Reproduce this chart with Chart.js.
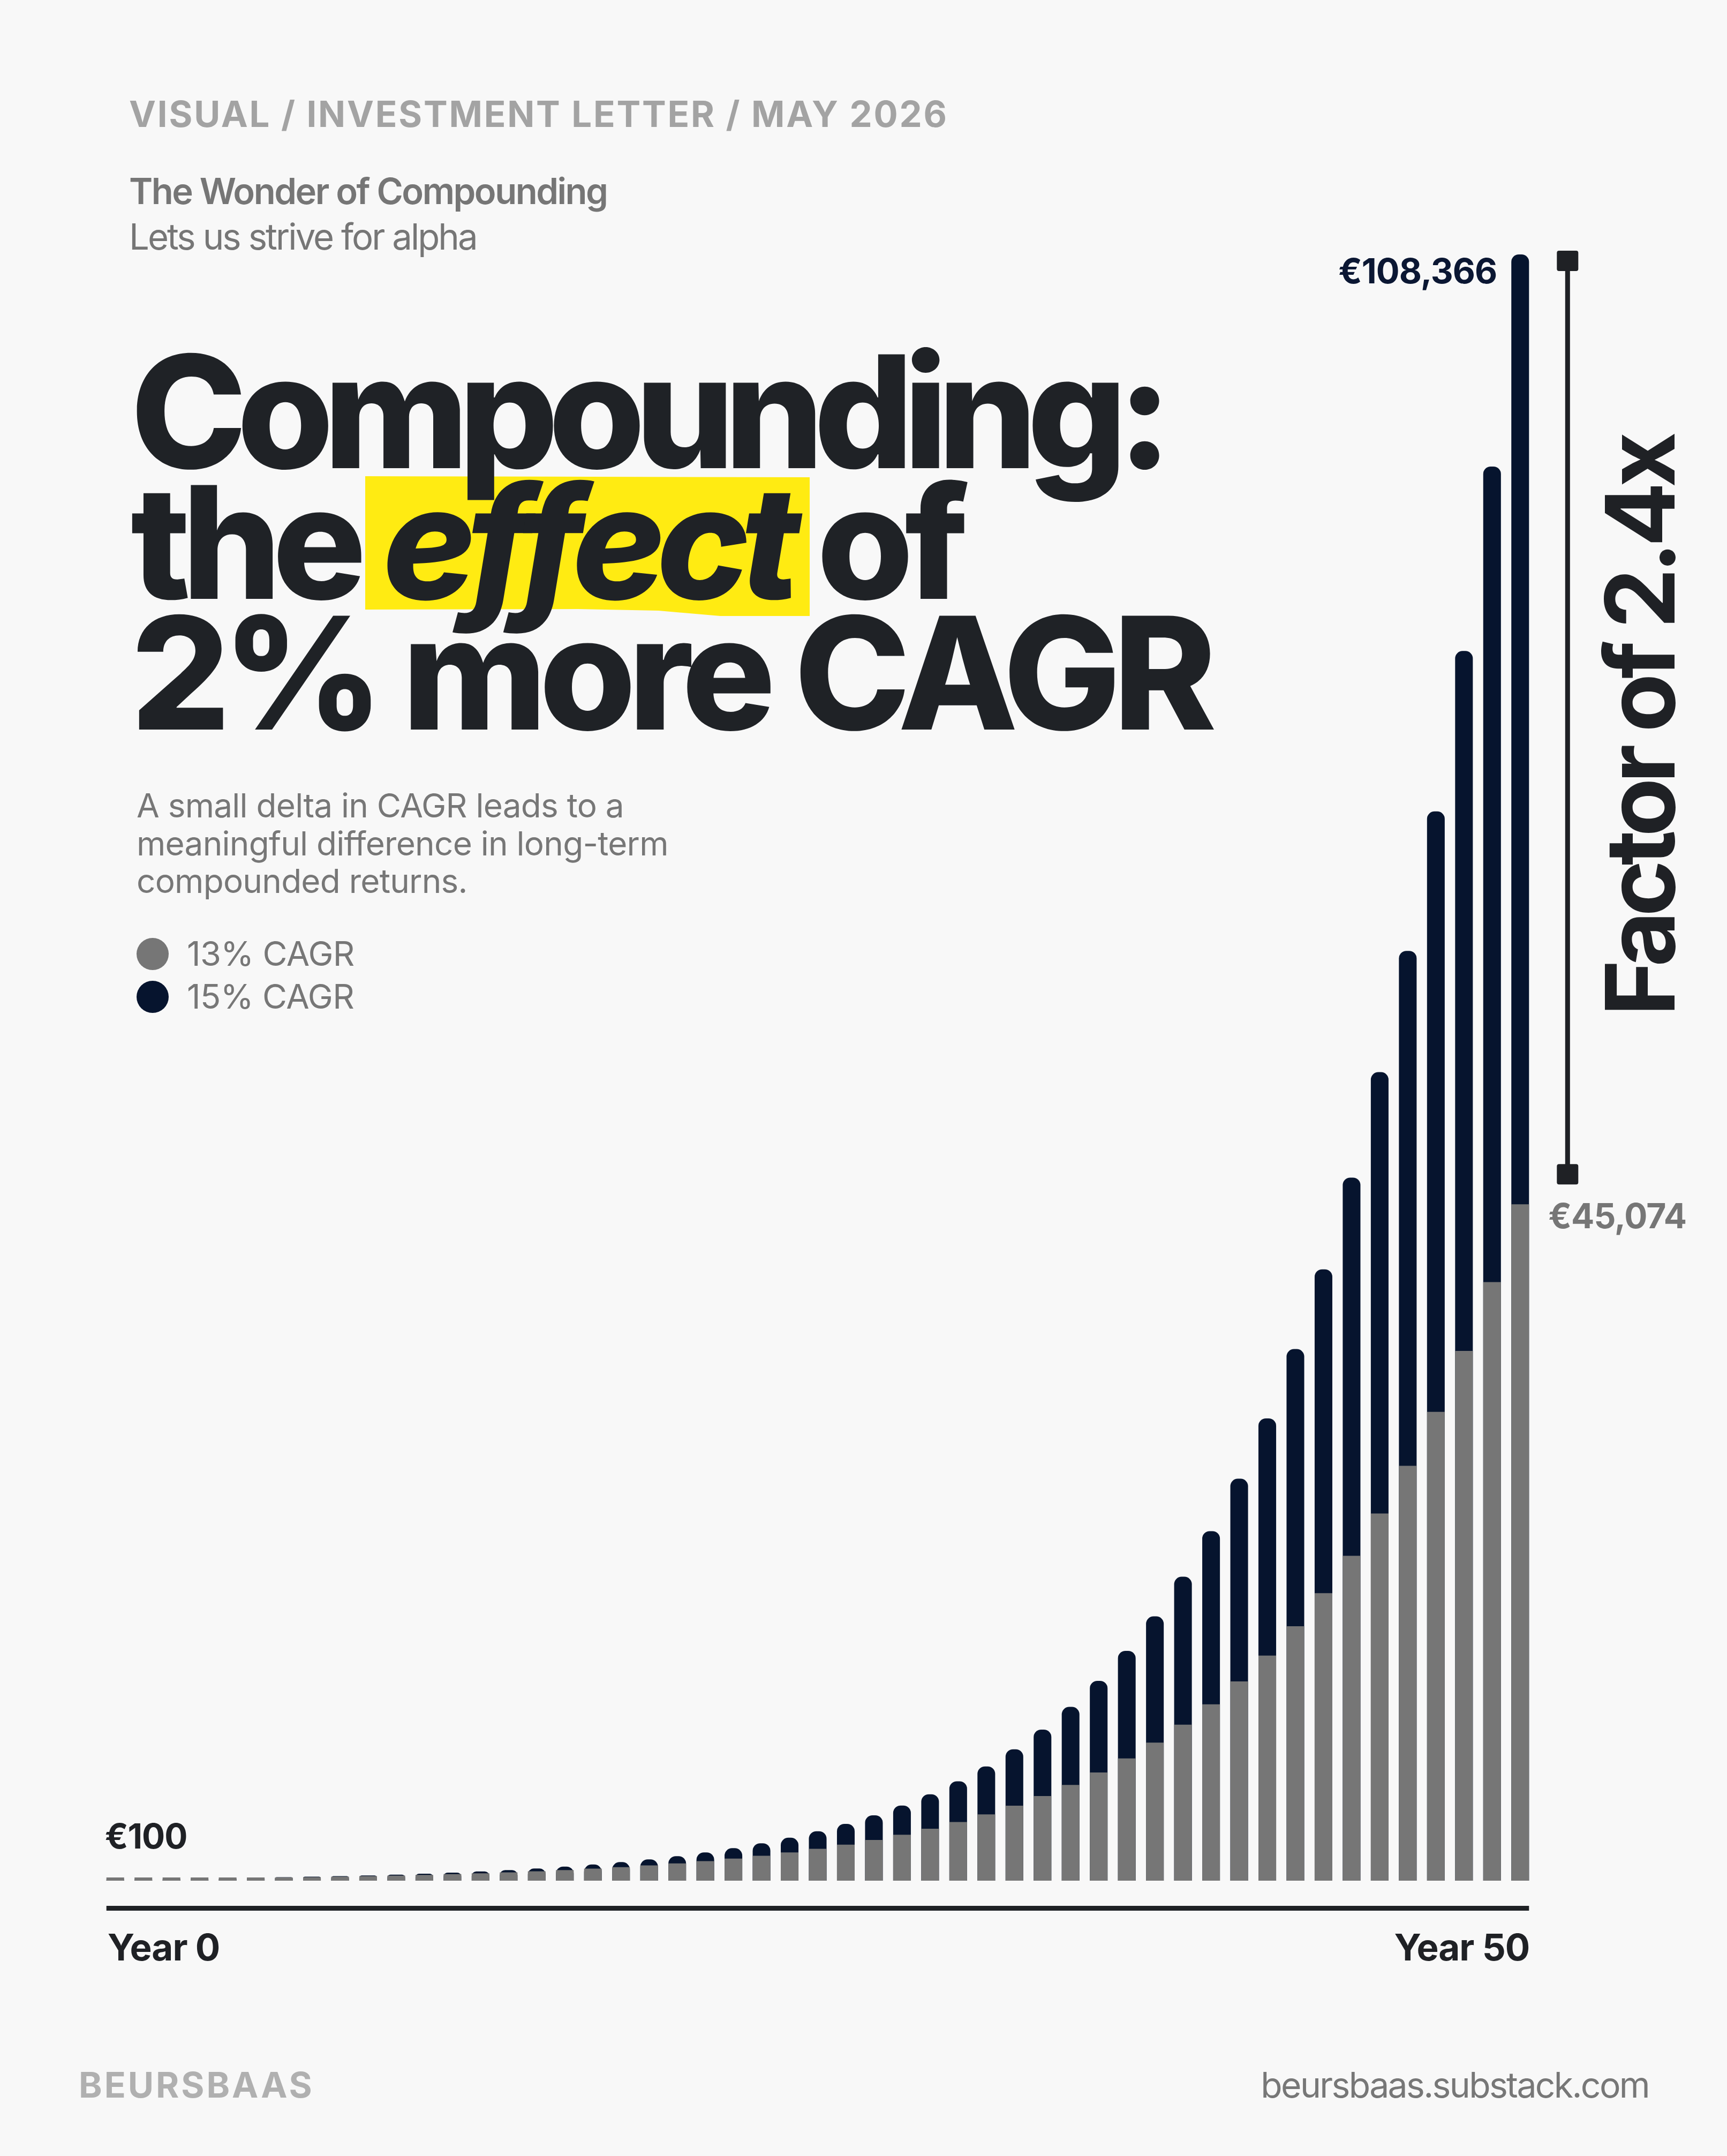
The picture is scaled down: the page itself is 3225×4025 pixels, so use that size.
<!DOCTYPE html>
<html>
<head>
<meta charset="utf-8">
<script src="https://cdn.jsdelivr.net/npm/chart.js@4.4.1/dist/chart.umd.min.js"></script>
<style>
  html, body { margin: 0; padding: 0; }
  body { width: 3225px; height: 4025px; background: #f8f8f8; position: relative; overflow: hidden; font-family: Inter, "Noto Sans", sans-serif; }
  .t { position: absolute; white-space: nowrap; line-height: 1; }
  #chartBox { position: absolute; left: 0; top: 0; width: 3225px; height: 4025px; }
  .dot { position: absolute; width: 60px; height: 60px; border-radius: 50%; }
</style>
</head>
<body>

<div class="t" style="left:241px; top:179px; font-size:67px; font-weight:700; color:#a3a3a3; letter-spacing:0.042em;">VISUAL / INVESTMENT LETTER / MAY 2026</div>
<div class="t" style="left:241px; top:323px; font-size:67px; font-weight:600; color:#767676; letter-spacing:-0.037em;">The Wonder of Compounding</div>
<div class="t" style="left:241px; top:408px; font-size:67px; font-weight:400; color:#767676; letter-spacing:-0.044em;">Lets us strive for alpha</div>

<div style="position:absolute; left:682px; top:889px; width:830px; height:261px; background:#ffeb12;
  clip-path: polygon(0 0, 830px 2px, 830px 261px, 663px 261px, 548px 251px, 398px 248px, 0 249px);"></div>
<div class="t" style="left:244px; top:646px; font-size:292px; font-weight:800; color:#1f2226; line-height:244px;"><span style="letter-spacing:-0.064em;">Compounding:</span><br><span style="letter-spacing:-0.057em;">the <i>effect</i> of</span><br><span style="letter-spacing:-0.05em;">2% more CAGR</span></div>

<div class="t" style="left:255px; top:1469px; font-size:62px; font-weight:400; color:#777777; line-height:70.5px; letter-spacing:-0.012em;">A small delta in CAGR leads to a<br>meaningful difference in long-term<br>compounded returns.</div>

<div class="dot" style="left:255px; top:1751px; background:#767676;"></div>
<div class="dot" style="left:255px; top:1831px; background:#06142e;"></div>
<div class="t" style="left:349px; top:1749px; font-size:63px; color:#777777; letter-spacing:-0.01em;">13% CAGR</div>
<div class="t" style="left:349px; top:1829px; font-size:63px; color:#777777; letter-spacing:-0.01em;">15% CAGR</div>

<div class="t" style="left:147px; top:3859px; font-size:66px; font-weight:700; color:#b0b0b0; letter-spacing:0.06em;">BEURSBAAS</div>
<div class="t" style="right:146px; top:3859px; font-size:66px; font-weight:400; color:#777777; letter-spacing:-0.04em;">beursbaas.substack.com</div>

<div id="chartBox"><canvas id="myChart"></canvas></div>

<script>
// years 0..50
const years = ['0','1','2','3','4','5','6','7','8','9','10','11','12','13','14','15','16','17','18','19','20',
  '21','22','23','24','25','26','27','28','29','30','31','32','33','34','35','36','37','38','39','40',
  '41','42','43','44','45','46','47','48','49','50'];

// value of €100 at 13% CAGR
const cagr13 = [100, 113, 128, 144, 163, 184, 208, 235, 266, 300, 339, 384, 433, 490, 553, 625, 707, 799, 902, 1020,
  1152, 1302, 1471, 1663, 1879, 2123, 2399, 2711, 3063, 3462, 3912, 4420, 4995, 5644, 6378, 7207, 8144, 9202,
  10399, 11751, 13278, 15004, 16955, 19159, 21650, 24464, 27645, 31238, 35299, 39888, 45074];

// value of €100 at 15% CAGR
const cagr15 = [100, 115, 132, 152, 175, 201, 231, 266, 306, 352, 405, 465, 535, 615, 708, 814, 936, 1076, 1238, 1423,
  1637, 1882, 2164, 2489, 2863, 3292, 3786, 4354, 5007, 5758, 6621, 7614, 8757, 10070, 11580, 13318, 15315, 17612,
  20254, 23292, 26786, 30804, 35425, 40739, 46850, 53877, 61958, 71252, 81940, 94231, 108366];

const xTickLabels = ['Year 0', 'Year 50'];
const startLabel = '€100';
const endLabel15 = '€108,366';
const endLabel13 = '€45,074';
const factorLabel = 'Factor of 2.4x';

const INK = '#1f2125';
const NAVY = '#06142e';
const GREY = '#767676';

const annotations = {
  id: 'annotations',
  afterDatasetsDraw(chart) {
    const ctx = chart.ctx;
    const grey = chart.getDatasetMeta(0).data;
    const navy = chart.getDatasetMeta(1).data;
    const first = grey[0];
    const last = grey[grey.length - 1];
    const lastNavy = navy[navy.length - 1];
    const left = first.x - first.width / 2;
    const right = last.x + last.width / 2;
    const base = first.base;

    ctx.save();
    // axis line
    ctx.fillStyle = INK;
    ctx.fillRect(left, base + 47, right - left, 9);

    ctx.textBaseline = 'alphabetic';
    ctx.font = '700 69px Inter';
    ctx.letterSpacing = '-1px';
    ctx.textAlign = 'left';
    ctx.fillText(xTickLabels[0], left + 2, base + 149);
    ctx.textAlign = 'right';
    ctx.fillText(xTickLabels[1], right + 1, base + 149);

    ctx.font = '700 64px Inter';
    ctx.textAlign = 'left';
    ctx.fillText(startLabel, left - 3, base - 60);

    ctx.fillStyle = '#0b1733';
    ctx.textAlign = 'right';
    ctx.font = '700 65px Inter';
    ctx.fillText(endLabel15, last.x - last.width / 2 - 27, lastNavy.y + 54);

    // bracket between the two end values
    const bx = right + 72;
    const yTop = lastNavy.y;
    const yBot = last.y;
    ctx.fillStyle = INK;
    ctx.fillRect(bx - 4.5, yTop + 20, 9, (yBot - 56) - (yTop + 20));
    ctx.beginPath();
    ctx.roundRect(bx - 20, yTop - 7, 40, 38, 4);
    ctx.roundRect(bx - 20, yBot - 75, 40, 38, 4);
    ctx.fill();

    ctx.fillStyle = GREY;
    ctx.textAlign = 'left';
    ctx.font = '700 64px Inter';
    ctx.fillText(endLabel13, bx - 36, yBot + 45);

    // rotated factor text
    ctx.fillStyle = INK;
    ctx.font = '700 179px Inter';
    ctx.letterSpacing = '-10px';
    ctx.translate(bx + 200, (yTop + yBot) / 2 - 5);
    ctx.rotate(-Math.PI / 2);
    ctx.textAlign = 'center';
    ctx.fillText(factorLabel, 0, 0);
    ctx.restore();
  }
};

new Chart(document.getElementById('myChart'), {
  type: 'bar',
  data: {
    labels: years,
    datasets: [{
      label: '13% CAGR',
      data: cagr13,
      backgroundColor: GREY,
      borderRadius: 0,
      minBarLength: 6
    }, {
      label: '15% CAGR',
      data: cagr15,
      backgroundColor: NAVY,
      borderRadius: { topLeft: 14, topRight: 14, bottomLeft: 0, bottomRight: 0 },
      borderSkipped: 'start'
    }]
  },
  options: {
    responsive: true,
    maintainAspectRatio: false,
    animation: false,
    grouped: false,
    barPercentage: 0.63,
    categoryPercentage: 1,
    layout: { padding: { left: 189, right: 360, top: 475, bottom: 514 } },
    plugins: { legend: { display: false }, tooltip: { enabled: false } },
    scales: {
      x: { display: false, grid: { display: false } },
      y: { display: false, min: 0, max: 108366, grid: { display: false } }
    }
  },
  plugins: [annotations]
});
</script>
</body>
</html>
